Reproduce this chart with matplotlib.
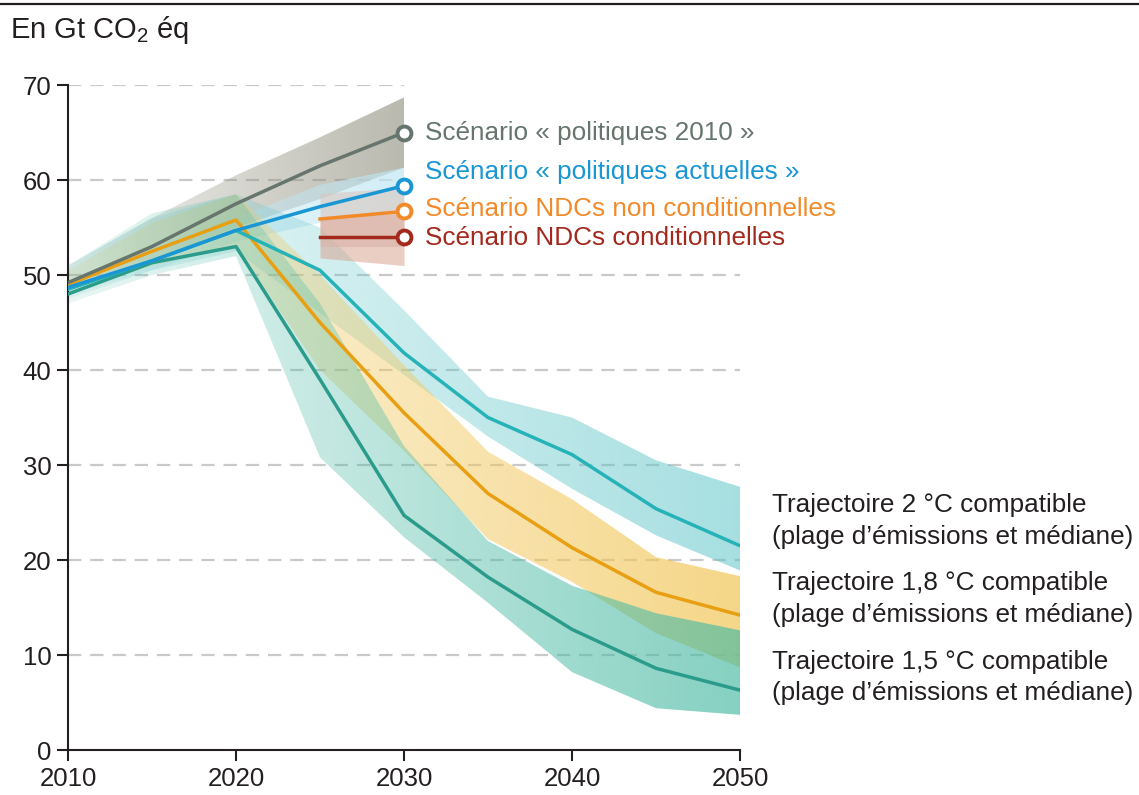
import numpy as np
import matplotlib
matplotlib.use("Agg")
import matplotlib.pyplot as plt
from matplotlib.colors import to_rgb
from matplotlib.lines import Line2D

plt.rcParams["font.family"] = ["Liberation Sans", "DejaVu Sans"]
plt.rcParams["mathtext.fontset"] = "custom"
plt.rcParams["mathtext.rm"] = "Liberation Sans"
plt.rcParams["mathtext.it"] = "Liberation Sans"

# ------------------------
# Data (Gt CO2 eq)
# ------------------------
years_hist = [2010, 2015, 2020, 2025, 2030]
policies_2010 = [49.2, 53.0, 57.5, 61.5, 65.0]
policies_2010_lo = [48.5, 51.5, 55.0, 58.0, 61.3]
policies_2010_hi = [51.0, 56.0, 60.5, 64.5, 68.7]

current_policies = [48.7, 51.5, 54.7, 57.2, 59.4]
current_lo = [48.0, 50.5, 53.5, 55.5, 57.0]
current_hi = [49.5, 53.0, 56.0, 59.5, 61.3]

years_ndc = [2025, 2030]
ndc_uncond = [55.9, 56.7]
ndc_uncond_lo = [53.0, 53.0]
ndc_uncond_hi = [58.6, 59.2]
ndc_cond = [54.0, 54.0]
ndc_cond_lo = [51.8, 51.0]
ndc_cond_hi = [56.0, 56.5]

years_path = [2010, 2015, 2020, 2025, 2030, 2035, 2040, 2045, 2050]
path_2c = [48.5, 51.5, 54.7, 50.5, 41.8, 35.0, 31.1, 25.4, 21.5]
path_2c_lo = [47.5, 50.5, 52.5, 46.0, 39.5, 33.0, 27.5, 22.6, 18.9]
path_2c_hi = [51.0, 56.0, 58.5, 55.0, 46.3, 37.2, 35.0, 30.5, 27.7]

path_18c = [49.0, 52.5, 55.8, 45.0, 35.5, 27.0, 21.3, 16.6, 14.2]
path_18c_lo = [48.0, 51.0, 53.0, 40.0, 31.5, 22.2, 17.7, 12.3, 8.7]
path_18c_hi = [50.5, 55.5, 58.5, 50.0, 40.5, 31.4, 26.4, 20.3, 18.3]

path_15c = [48.0, 51.3, 53.0, 39.0, 24.7, 18.2, 12.7, 8.6, 6.3]
path_15c_lo = [47.0, 50.0, 52.0, 30.8, 22.4, 15.5, 8.2, 4.4, 3.7]
path_15c_hi = [51.0, 56.5, 58.5, 47.0, 32.0, 22.0, 17.3, 14.4, 12.6]

scenario_labels = ["Scénario « politiques 2010 »",
                   "Scénario « politiques actuelles »",
                   "Scénario NDCs non conditionnelles",
                   "Scénario NDCs conditionnelles"]
scenario_label_y = [65.0, 60.8, 57.0, 53.9]

path_labels = ["Trajectoire 2 °C compatible\n(plage d’émissions et médiane)",
               "Trajectoire 1,8 °C compatible\n(plage d’émissions et médiane)",
               "Trajectoire 1,5 °C compatible\n(plage d’émissions et médiane)"]
path_label_y = [24.1, 15.9, 7.6]

# colours
c_gray, c_blue, c_orange, c_red = "#66756d", "#1996d3", "#f28a2a", "#a3291d"
c_cyan, c_yellow, c_green = "#26b3b8", "#e89f12", "#2b9c8c"


def gradient_band(ax, x, lo, hi, color, a0, a1, z):
    # band filled with a colour whose opacity grows from left to right
    poly = ax.fill_between(x, lo, hi, facecolor="none", edgecolor="none")
    rgb = to_rgb(color)
    n = 256
    img = np.zeros((1, n, 4))
    img[..., :3] = rgb
    img[0, :, 3] = np.linspace(a0, a1, n)
    im = ax.imshow(img, extent=[x[0], x[-1], 0, 70], aspect="auto",
                   origin="lower", zorder=z, interpolation="bilinear")
    im.set_clip_path(poly.get_paths()[0], transform=ax.transData)


fig = plt.figure(figsize=(11.39, 7.95), dpi=100)
ax = fig.add_axes([0.0597, 0.0566, 0.5900, 0.8364])

# gridlines (60 and 70 stop at 2030, where the labels start)
for v in [10, 20, 30, 40, 50]:
    ax.plot([2010, 2050], [v, v], color="#c9c9c9", lw=1.6, ls=(0, (6, 4)), zorder=0)
for v in [60, 70]:
    ax.plot([2010, 2030], [v, v], color="#c9c9c9", lw=1.6, ls=(0, (6, 4)), zorder=0)

# bands
gradient_band(ax, years_hist, policies_2010_lo, policies_2010_hi, "#8e8e7c", 0.10, 0.62, 1)
gradient_band(ax, years_hist, current_lo, current_hi, "#bfe6f3", 0.15, 0.7, 1)
gradient_band(ax, years_path, path_2c_lo, path_2c_hi, "#5ec5c8", 0.12, 0.55, 1)
gradient_band(ax, years_path, path_18c_lo, path_18c_hi, "#f2c75a", 0.15, 0.72, 1)
gradient_band(ax, years_path, path_15c_lo, path_15c_hi, "#4cbba5", 0.12, 0.68, 1)
ax.fill_between(years_ndc, ndc_uncond_lo, ndc_uncond_hi, color="#d9c7bf", alpha=0.6, lw=0, zorder=2)
ax.fill_between(years_ndc, ndc_cond_lo, ndc_cond_hi, color="#d9a493", alpha=0.55, lw=0, zorder=2)

# median lines
lw = 2.5
ax.plot(years_path, path_15c, color=c_green, lw=lw, zorder=3)
ax.plot(years_path, path_18c, color=c_yellow, lw=lw, zorder=3)
ax.plot(years_path, path_2c, color=c_cyan, lw=lw, zorder=3)
ax.plot(years_hist, policies_2010, color=c_gray, lw=lw, zorder=4)
ax.plot(years_hist, current_policies, color=c_blue, lw=lw, zorder=4)
ax.plot(years_ndc, ndc_uncond, color=c_orange, lw=lw, zorder=4)
ax.plot(years_ndc, ndc_cond, color=c_red, lw=lw, zorder=4)

# end markers + scenario labels
ends = [policies_2010[-1], current_policies[-1], ndc_uncond[-1], ndc_cond[-1]]
for val, lab, ly, col in zip(ends, scenario_labels, scenario_label_y,
                             [c_gray, c_blue, c_orange, c_red]):
    ax.plot([2030], [val], marker="o", ms=10, mfc="white", mec=col, mew=2.8,
            zorder=6, clip_on=False)
    ax.text(2031.25, ly, lab, color=col, fontsize=18.8, va="center", ha="left")

for lab, ly in zip(path_labels, path_label_y):
    ax.text(2051.9, ly, lab, color="#231f20", fontsize=18.8, va="center",
            ha="left", linespacing=1.38)

# axes styling
ax.set_xlim(2010, 2050)
ax.set_ylim(0, 70)
ax.set_xticks([2010, 2020, 2030, 2040, 2050])
ax.set_yticks(range(0, 71, 10))
for s in ["top", "right"]:
    ax.spines[s].set_visible(False)
for s in ["left", "bottom"]:
    ax.spines[s].set_linewidth(1.5)
    ax.spines[s].set_color("#231f20")
ax.tick_params(axis="both", length=8, width=1.5, color="#231f20",
               labelcolor="#231f20", pad=4)
for lbl in ax.get_xticklabels() + ax.get_yticklabels():
    lbl.set_family(["Liberation Sans Narrow", "Liberation Sans", "DejaVu Sans"])
    lbl.set_fontsize(18.5)

fig.text(0.009, 0.962, "En Gt CO$_2$ éq", fontsize=21, color="#231f20",
         va="center", ha="left")
fig.add_artist(Line2D([0, 1], [0.9955, 0.9955], color="#231f20", lw=1.6,
                      transform=fig.transFigure))

fig.savefig("out.png", dpi=100)
